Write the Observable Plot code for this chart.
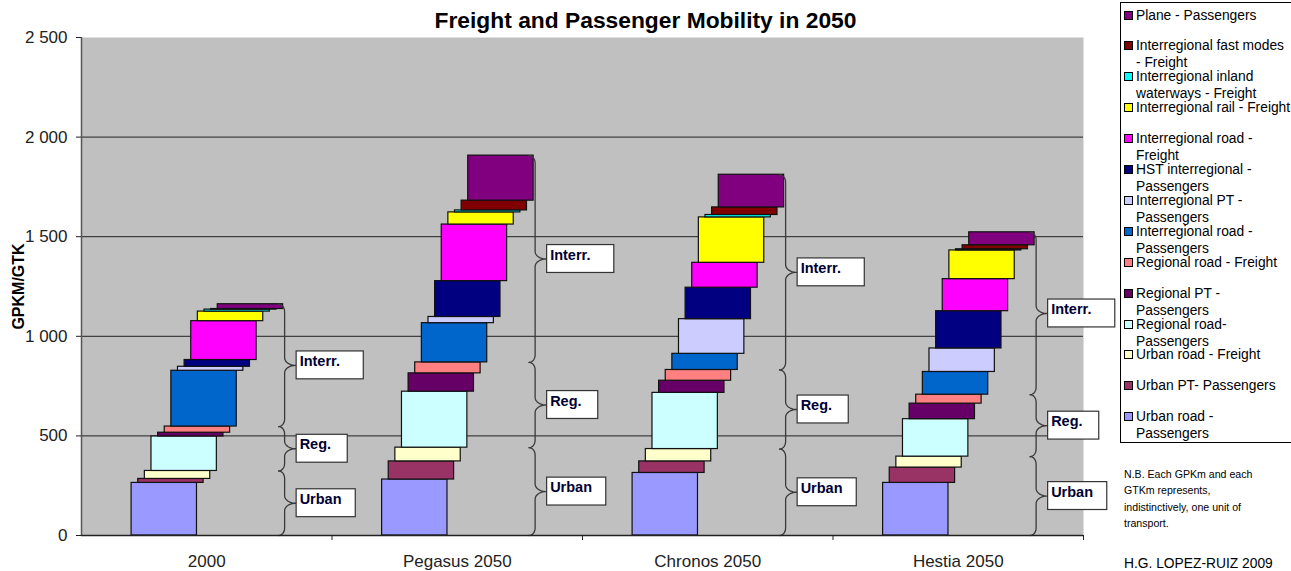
<!DOCTYPE html>
<html>
<head>
<meta charset="utf-8">
<script src="https://cdn.jsdelivr.net/npm/d3@7"></script>
<script src="https://cdn.jsdelivr.net/npm/@observablehq/plot@0.6"></script>
<style>
  body { margin: 0; background: #fff; font-family: "Liberation Sans", Arial, sans-serif; }
  #wrap { position: relative; width: 1291px; height: 571px; overflow: hidden; background: #fff; }
  #chart { position: absolute; left: 0; top: 0; }
  #title { position: absolute; left: 0; top: 7px; width: 1291px; text-align: center; font-weight: bold; font-size: 22.8px; color: #000; }
  #legend { position: absolute; left: 1120px; top: 2px; width: 180px; height: 441px; border: 1px solid #000; box-sizing: border-box; background: #fff; }
  .item { position: absolute; left: 0; width: 178px; font-size: 13.8px; line-height: 17px; color: #000; white-space: pre; }
  .item .mk { position: absolute; left: 3px; top: 4px; width: 7px; height: 7px; border: 1px solid #000; }
  .item .tx { position: absolute; left: 15px; top: 0; }
  #note { position: absolute; left: 1124px; top: 466px; font-size: 10.6px; line-height: 16.3px; color: #000; white-space: pre; }
  #credit { position: absolute; left: 1124px; top: 556px; font-size: 13.8px; color: #000; white-space: pre; }
</style>
</head>
<body>
<div id="wrap">
  <div id="chart"></div>
  <div id="title"></div>
  <div id="legend"></div>
  <div id="note"></div>
  <div id="credit"></div>
</div>
<script>
// ---------- data ----------
const scenarios = ["2000", "Pegasus 2050", "Chronos 2050", "Hestia 2050"];

// stacking order, bottom to top (legend shows them top to bottom, reversed)
const modes = [
  "Urban road -\nPassengers",
  "Urban PT- Passengers",
  "Urban road - Freight",
  "Regional road-\nPassengers",
  "Regional PT -\nPassengers",
  "Regional road - Freight",
  "Interregional road -\nPassengers",
  "Interregional PT -\nPassengers",
  "HST interregional -\nPassengers",
  "Interregional road -\nFreight",
  "Interregional rail - Freight",
  "Interregional inland\nwaterways - Freight",
  "Interregional fast modes\n- Freight",
  "Plane - Passengers"
];
const modeColors = [
  "#9999FF", "#993366", "#FFFFCC", "#CCFFFF", "#660066", "#FF8080", "#0066CC",
  "#CCCCFF", "#000080", "#FF00FF", "#FFFF00", "#00FFFF", "#800000", "#800080"
];
const modeGroups = ["Urban", "Urban", "Urban", "Reg.", "Reg.", "Reg.",
  "Interr.", "Interr.", "Interr.", "Interr.", "Interr.", "Interr.", "Interr.", "Interr."];
const groups = ["Urban", "Reg.", "Interr."];

const values2000    = [264, 20, 40, 173, 19, 31, 280, 20, 34, 195, 48, 10, 3, 24];
const valuesPegasus = [281, 91, 69, 281, 92, 55, 197, 31, 180, 284, 61, 10, 49, 226];
const valuesChronos = [314, 58, 62, 282, 61, 54, 81, 174, 158, 125, 228, 12, 38, 164];
const valuesHestia  = [264, 77, 55, 188, 78, 45, 114, 118, 187, 161, 144, 6, 20, 65];

const yTicks = [0, 500, 1000, 1500, 2000, 2500];
const gridValues = [500, 1000, 1500, 2000];

const titleText = "Freight and Passenger Mobility in 2050";
const yLabel = "GPKM/GTK";
const noteText = "N.B. Each GPKm and each\nGTKm represents,\nindistinctively, one unit of\ntransport.";
const creditText = "H.G. LOPEZ-RUIZ 2009";

// ---------- layout (in category units / value units) ----------
const L = {
  barStart: 0.2, barWidth: 0.261, barStep: 0.02645,
  braceGap: 0.006, hook: 0.024, tip: 0.044, braceR: 38,
  boxGap: 0.004, boxHalfH: 70,
  boxW: {"Urban": 0.236, "Reg.": 0.204, "Interr.": 0.268}
};

const series = [values2000, valuesPegasus, valuesChronos, valuesHestia];

// segments
const segments = [];
scenarios.forEach((s, i) => {
  let cum = 0;
  series[i].forEach((v, j) => {
    const x1 = i + L.barStart + j * L.barStep;
    segments.push({scenario: s, mode: modes[j], x1, x2: x1 + L.barWidth, y1: cum, y2: cum + v});
    cum += v;
  });
});

// braces and label boxes
function arc(pts, cx, cy, rx, ry, a0, a1, id, n = 10) {
  for (let k = 0; k <= n; k++) {
    const a = a0 + (a1 - a0) * k / n;
    pts.push({id, x: cx + rx * Math.cos(a), y: cy + ry * Math.sin(a)});
  }
}
const bracePts = [];
const boxes = [];
scenarios.forEach((s, i) => {
  const vals = series[i];
  const xb = i + L.barStart + (vals.length - 1) * L.barStep + L.barWidth + L.braceGap;
  groups.forEach(g => {
    let y0 = 0, y1 = 0, started = false;
    let cum = 0;
    vals.forEach((v, j) => {
      if (modeGroups[j] === g && !started) { y0 = cum; started = true; }
      cum += v;
      if (modeGroups[j] === g) y1 = cum;
    });
    const ym = (y0 + y1) / 2, r = L.braceR, h = L.hook, t = L.tip, id = s + g;
    const P = Math.PI;
    arc(bracePts, xb - h, y1 - r, h, r, P / 2, 0, id);
    arc(bracePts, xb + t, ym + r, t, r, P, 1.5 * P, id);
    arc(bracePts, xb + t, ym - r, t, r, P / 2, P, id);
    arc(bracePts, xb - h, y0 + r, h, r, 0, -P / 2, id);
    const bx = xb + t + L.boxGap;
    boxes.push({label: g, x1: bx, x2: bx + L.boxW[g], y1: ym - L.boxHalfH, y2: ym + L.boxHalfH, ym});
  });
});

const fmt = d => d3.format(",")(d).replace(/,/g, " ");

const chart = Plot.plot({
  width: 1291,
  height: 571,
  marginLeft: 81,
  marginRight: 208,
  marginTop: 37,
  marginBottom: 36,
  style: {fontFamily: "'Liberation Sans', Arial, sans-serif", background: "transparent", overflow: "visible"},
  x: {domain: [0, scenarios.length], axis: null},
  y: {domain: [0, 2500], axis: null},
  color: {domain: modes, range: modeColors},
  marks: [
    Plot.frame({fill: "#C0C0C0", stroke: null}),
    Plot.ruleY(gridValues, {stroke: "#222", strokeWidth: 1}),
    Plot.rect(segments, {x1: "x1", x2: "x2", y1: "y1", y2: "y2", fill: "mode", stroke: "#111", strokeWidth: 1.2}),
    Plot.line(bracePts, {x: "x", y: "y", z: "id", stroke: "#3a3a3a", strokeWidth: 1.3, curve: "linear"}),
    Plot.rect(boxes, {x1: "x1", x2: "x2", y1: "y1", y2: "y2", fill: "white", stroke: "#333", strokeWidth: 1.2}),
    Plot.text(boxes, {x: "x1", y: "ym", text: "label", textAnchor: "start", dx: 3, dy: -4, fontSize: 14.5, fontWeight: "bold", fill: "#000033"}),
    Plot.ruleX([0], {stroke: "#555", strokeWidth: 1.5}),
    Plot.ruleY([0], {stroke: "#222", strokeWidth: 1.5}),
    Plot.axisY({ticks: yTicks, tickFormat: fmt, tickSize: 5, tickPadding: 9, fontSize: 17, label: null, stroke: "#222", color: "#222"}),
    Plot.axisX({ticks: d3.range(1, scenarios.length + 1), tickSize: 5, tickFormat: () => "", label: null, stroke: "#222"}),
    Plot.axisX({ticks: scenarios.map((s, i) => i + 0.5), tickFormat: (d) => scenarios[Math.floor(d)], tickSize: 0, tickPadding: 19, fontSize: 17, label: null, color: "#222"}),
    Plot.text([yLabel], {frameAnchor: "left", text: d => d, rotate: -90, textAnchor: "middle", dx: -63, fontSize: 16, fontWeight: "bold", fill: "#000"})
  ]
});
document.getElementById("chart").appendChild(chart);

document.getElementById("title").textContent = titleText;
document.getElementById("note").textContent = noteText;
document.getElementById("credit").textContent = creditText;

// legend (top to bottom = reverse stacking order)
const legend = document.getElementById("legend");
const order = d3.range(modes.length).reverse();
order.forEach((j, k) => {
  const it = document.createElement("div");
  it.className = "item";
  it.style.top = (3.5 + k * 30.9) + "px";
  const mk = document.createElement("div");
  mk.className = "mk";
  mk.style.background = modeColors[j];
  const tx = document.createElement("div");
  tx.className = "tx";
  tx.textContent = modes[j];
  it.appendChild(mk);
  it.appendChild(tx);
  legend.appendChild(it);
});
</script>
</body>
</html>
